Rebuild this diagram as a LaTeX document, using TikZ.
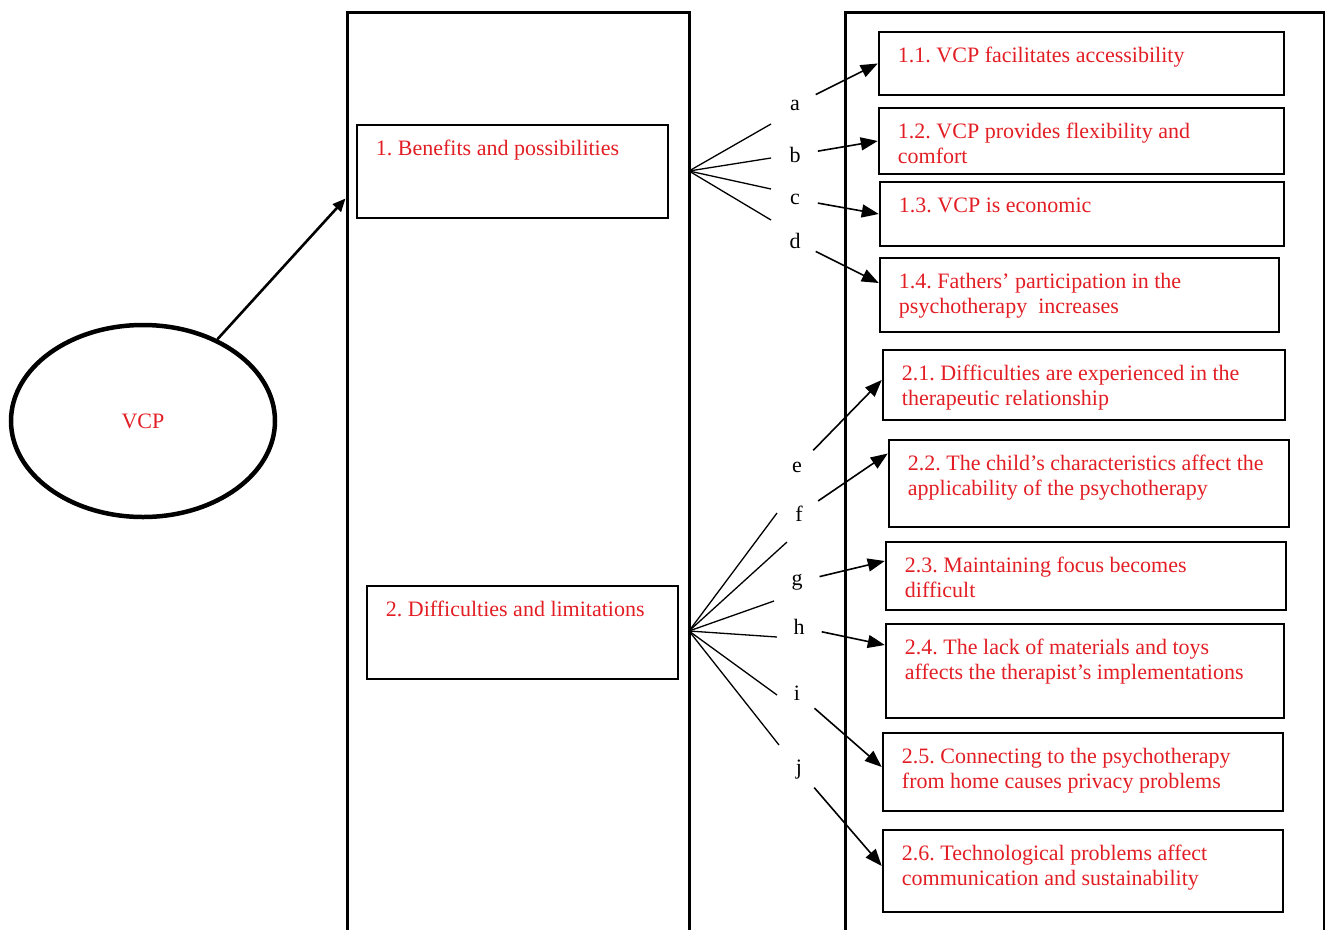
\documentclass[tikz,border=0pt]{standalone}
\usepackage{fontspec}
\setmainfont{Liberation Serif}
\usepackage{tikz}
\usetikzlibrary{shapes.geometric,arrows.meta}

\definecolor{themered}{RGB}{226,30,36}

\tikzset{
  colbox/.style={draw,line width=3pt,inner sep=0pt,minimum height=919pt},
  catbox/.style={draw,line width=2.5pt,inner sep=0pt,minimum width=311pt,minimum height=93pt},
  themebox/.style={draw,line width=2.5pt,inner sep=0pt},
  boxtext/.style={text=themered,align=left,anchor=north west,inner sep=0pt,xshift=20pt,yshift=-16.5pt},
  letter/.style={circle,inner sep=0pt,minimum size=46pt},
  fan/.style={line width=1.3pt},
  toarrow/.style={line width=1.6pt,-{Triangle[length=17pt,width=13pt]}}
}
\frenchspacing

\begin{document}
\begin{tikzpicture}[x=1pt,y=-1pt,font=\fontsize{22}{25}\selectfont]
  \useasboundingbox (0,0) rectangle (1325,929);

  \node[ellipse,draw,line width=4.5pt,minimum width=264pt,minimum height=192pt,text=themered] (vcp) at (143,421) {VCP};

  \node[colbox,minimum width=342pt] (col1) at (518,471.5) {}; % categories
  \node[colbox,minimum width=479pt] (col2) at (1084.5,471.5) {}; % themes

  \node[catbox] (cat1) at (512.5,171.5) {};
  \node[catbox] (cat2) at (522.5,632.5) {};
  \node[boxtext] (cat1txt) at (cat1.north west) {1. Benefits and possibilities};
  \node[boxtext] (cat2txt) at (cat2.north west) {2. Difficulties and limitations};

  \node[themebox,minimum width=405pt,minimum height=63pt] (t11) at (1081.5,63.5) {};
  \node[themebox,minimum width=405pt,minimum height=66pt] (t12) at (1081.5,141) {};
  \node[themebox,minimum width=404pt,minimum height=64pt] (t13) at (1082,214) {};
  \node[themebox,minimum width=399pt,minimum height=74pt] (t14) at (1079.5,295) {};
  \node[themebox,minimum width=402pt,minimum height=70pt] (t21) at (1084,385) {};
  \node[themebox,minimum width=400pt,minimum height=87pt] (t22) at (1089,483.5) {};
  \node[themebox,minimum width=400pt,minimum height=68pt] (t23) at (1086,576) {};
  \node[themebox,minimum width=398pt,minimum height=94pt] (t24) at (1085,671) {};
  \node[themebox,minimum width=400pt,minimum height=78pt] (t25) at (1083,772) {};
  \node[themebox,minimum width=400pt,minimum height=82pt] (t26) at (1083,871) {};

  \node[boxtext] (t11txt) at (t11.north west) {1.1. VCP facilitates accessibility};
  \node[boxtext] (t12txt) at (t12.north west) {1.2. VCP provides flexibility and\\comfort};
  \node[boxtext] (t13txt) at (t13.north west) {1.3. VCP is economic};
  \node[boxtext] (t14txt) at (t14.north west) {1.4. Fathers’ participation in the\\psychotherapy\ \ increases};
  \node[boxtext] (t21txt) at (t21.north west) {2.1. Difficulties are experienced in the\\therapeutic relationship};
  \node[boxtext] (t22txt) at (t22.north west) {2.2. The child’s characteristics affect the\\applicability of the psychotherapy};
  \node[boxtext] (t23txt) at (t23.north west) {2.3. Maintaining focus becomes\\difficult};
  \node[boxtext] (t24txt) at (t24.north west) {2.4. The lack of materials and toys\\affects the therapist’s implementations};
  \node[boxtext] (t25txt) at (t25.north west) {2.5. Connecting to the psychotherapy\\from home causes privacy problems};
  \node[boxtext] (t26txt) at (t26.north west) {2.6. Technological problems affect\\communication and sustainability};

  \node[letter] (la) at (795,105) {a};
  \node[letter] (lb) at (795,155) {b};
  \node[letter] (lc) at (795,199) {c};
  \node[letter] (ld) at (795,241) {d};
  \node[letter] (le) at (797,467) {e};
  \node[letter] (lf) at (799,514) {f};
  \node[letter] (lg) at (797,582) {g};
  \node[letter] (lh) at (799,627) {h};
  \node[letter] (li) at (797,693) {i};
  \node[letter] (lj) at (799,770) {j};

  % fan of lines out of the first column
  \coordinate (o1) at (689,171);
  \coordinate (fa1) at (771,124);
  \coordinate (fa2) at (771,158);
  \coordinate (fa3) at (771,189);
  \coordinate (fa4) at (771,220);
  \coordinate (o2) at (689,631);
  \coordinate (fb1) at (777,513);
  \coordinate (fb2) at (787,542);
  \coordinate (fb3) at (774,601);
  \coordinate (fb4) at (777,637);
  \coordinate (fb5) at (777,695);
  \coordinate (fb6) at (779,745);

  \draw[fan] (o1) -- (fa1);
  \draw[fan] (o1) -- (fa2);
  \draw[fan] (o1) -- (fa3);
  \draw[fan] (o1) -- (fa4);
  \draw[fan] (o2) -- (fb1);
  \draw[fan] (o2) -- (fb2);
  \draw[fan] (o2) -- (fb3);
  \draw[fan] (o2) -- (fb4);
  \draw[fan] (o2) -- (fb5);
  \draw[fan] (o2) -- (fb6);

  \draw[line width=2.6pt,-{Triangle[length=13pt,width=11pt]}] (vcp) -- ([yshift=-188pt]col1.north west);

  \draw[toarrow] (la) -- (t11.west);
  \draw[toarrow] (lb) -- (t12.west);
  \draw[toarrow] (lc) -- (t13.west);
  \draw[toarrow] (ld) -- ([yshift=12pt]t14.west);
  \draw[toarrow] (le) -- ([yshift=5pt]t21.west);
  \draw[toarrow] (lf) -- ([yshift=30pt]t22.west);
  \draw[toarrow] (lg) -- ([yshift=15pt]t23.west);
  \draw[toarrow] (lh) -- ([yshift=26pt]t24.west);
  \draw[toarrow] (li) -- ([yshift=5pt]t25.west);
  \draw[toarrow] (lj) -- ([yshift=5pt]t26.west);

\end{tikzpicture}
\end{document}
